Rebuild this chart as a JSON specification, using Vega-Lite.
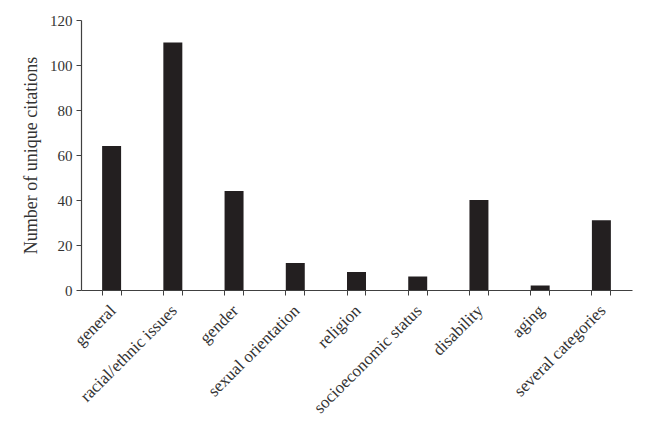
{
  "$schema": "https://vega.github.io/schema/vega-lite/v6.json",
  "width": 551,
  "height": 270,
  "autosize": {"type": "none"},
  "padding": {"left": 81, "top": 20, "right": 19, "bottom": 136},
  "background": "white",
  "config": {
    "view": {"stroke": null},
    "font": "Liberation Serif",
    "axis": {
      "labelFont": "Liberation Serif",
      "titleFont": "Liberation Serif",
      "labelColor": "#333333",
      "titleColor": "#333333",
      "domainColor": "#404040",
      "tickColor": "#404040",
      "grid": false
    }
  },
  "data": {
    "values": [
      {"category": "general", "citations": 64},
      {"category": "racial/ethnic issues", "citations": 110},
      {"category": "gender", "citations": 44},
      {"category": "sexual orientation", "citations": 12},
      {"category": "religion", "citations": 8},
      {"category": "socioeconomic status", "citations": 6},
      {"category": "disability", "citations": 40},
      {"category": "aging", "citations": 2},
      {"category": "several categories", "citations": 31}
    ]
  },
  "layer": [
    {
      "mark": {"type": "bar", "color": "#231f20"},
      "encoding": {
        "x": {
          "field": "category",
          "type": "nominal",
          "sort": null,
          "scale": {"paddingInner": 0.69, "paddingOuter": 0.345},
          "axis": {
            "orient": "bottom",
            "title": null,
            "labelAngle": -45,
            "labelFontSize": 17,
            "labelPadding": 7,
            "labelOffset": -4,
            "tickSize": 5,
            "bandPosition": 0,
            "domainWidth": 1.2
          }
        },
        "y": {
          "field": "citations",
          "type": "quantitative",
          "scale": {"domain": [0, 120], "nice": false},
          "axis": {
            "title": "Number of unique citations",
            "titleFontSize": 18,
            "titleFontWeight": "normal",
            "titlePadding": 9,
            "labelFontSize": 15,
            "labelPadding": 4,
            "tickSize": 5,
            "values": [0, 20, 40, 60, 80, 100, 120],
            "domainWidth": 1.2
          }
        }
      }
    },
    {
      "mark": {"type": "bar", "opacity": 0},
      "encoding": {
        "x": {
          "field": "category",
          "type": "nominal",
          "sort": null,
          "axis": {
            "orient": "bottom",
            "title": null,
            "labels": false,
            "domain": false,
            "tickSize": 5,
            "bandPosition": 1
          }
        },
        "y": {"field": "citations", "type": "quantitative"}
      }
    }
  ],
  "resolve": {"axis": {"x": "independent"}}
}
